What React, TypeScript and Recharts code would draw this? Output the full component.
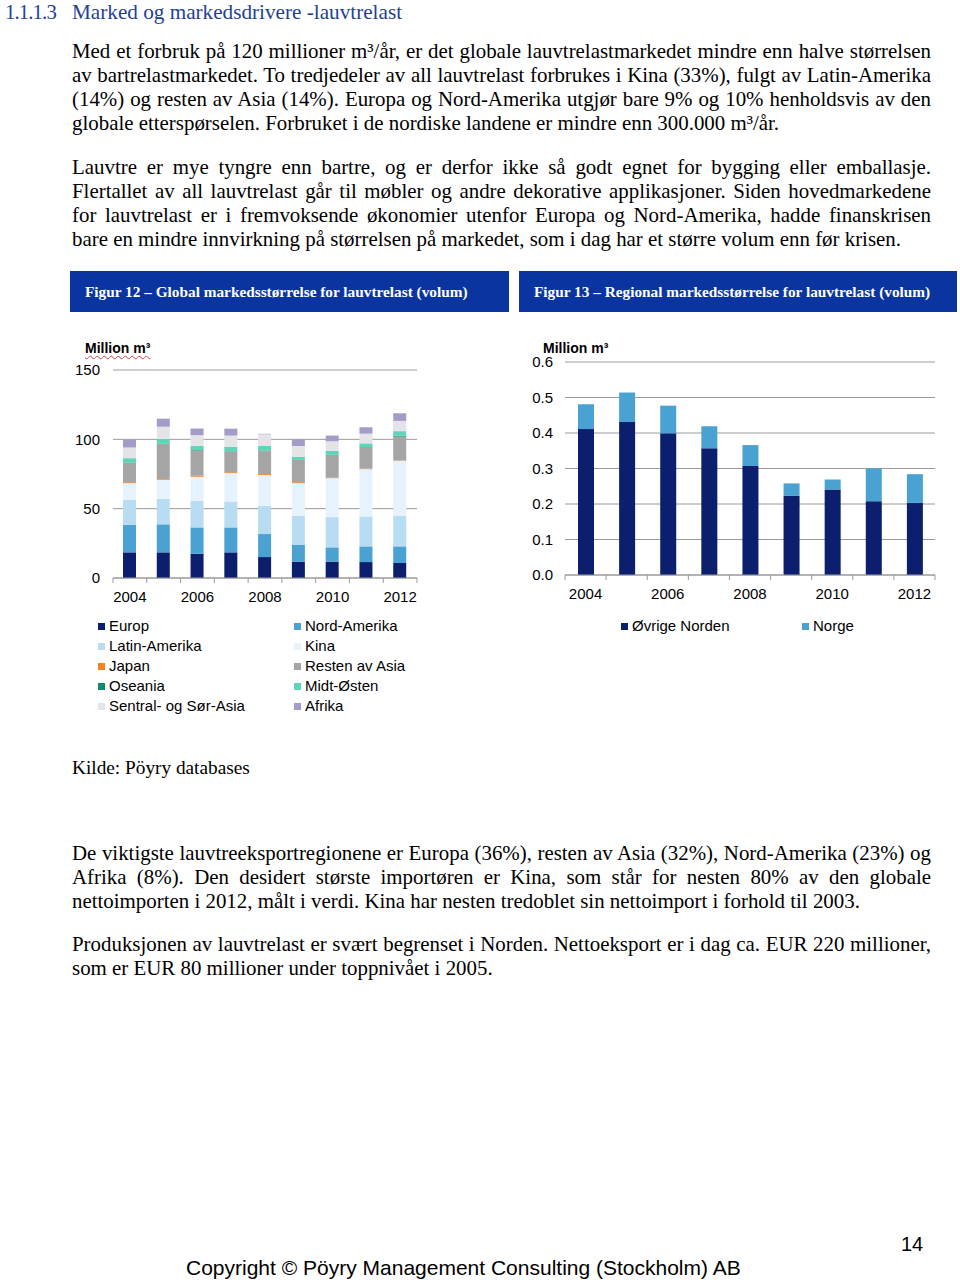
import React from 'react';
import { BarChart, Bar, XAxis, YAxis, CartesianGrid } from 'recharts';

const years = ['2004', '2005', '2006', '2007', '2008', '2009', '2010', '2011', '2012'];

// Figur 12 – Global markedsstørrelse (million m³)
const europ = [18.5, 18.5, 17.5, 18.5, 15.1, 11.8, 11.8, 11.5, 10.8];
const nordAmerika = [19.7, 20.2, 19.0, 18.0, 16.6, 12.0, 10.3, 11.3, 12.0];
const latinAmerika = [18.2, 18.4, 19.2, 18.7, 20.4, 21.1, 21.8, 21.6, 22.1];
const kina = [12.0, 13.7, 17.3, 20.4, 22.1, 23.5, 28.1, 34.1, 39.6];
const japan = [0.7, 0.5, 1.0, 0.7, 0.7, 0.7, 0.3, 0.3, 0.3];
const restenAvAsia = [13.7, 25.2, 18.0, 14.7, 16.6, 16.1, 16.3, 15.3, 17.2];
const oseania = [0.3, 0.3, 0.3, 0.3, 0.3, 0.3, 0.3, 0.3, 0.6];
const midtOsten = [3.3, 3.5, 3.0, 3.4, 3.4, 2.0, 2.7, 2.7, 3.3];
const sentralSorAsia = [7.7, 8.8, 7.7, 8.0, 8.4, 7.7, 7.0, 7.0, 7.4];
const afrika = [5.5, 5.8, 4.8, 5.0, 0.4, 4.6, 4.1, 4.6, 5.5];
const ticks1 = [0, 50, 100, 150];

// Figur 13 – Regional markedsstørrelse (million m³)
const ovrigeNorden = [0.411, 0.431, 0.399, 0.357, 0.307, 0.223, 0.241, 0.208, 0.203];
const norge = [0.07, 0.083, 0.078, 0.062, 0.059, 0.035, 0.028, 0.092, 0.081];
const ticks2 = [0, 0.1, 0.2, 0.3, 0.4, 0.5, 0.6];

const series1 = [
  { key: 'europ', name: 'Europ', color: '#0B1F6E', values: europ },
  { key: 'nordAmerika', name: 'Nord-Amerika', color: '#4AA2D2', values: nordAmerika },
  { key: 'latinAmerika', name: 'Latin-Amerika', color: '#B8DCF2', values: latinAmerika },
  { key: 'kina', name: 'Kina', color: '#E6F3FC', values: kina },
  { key: 'japan', name: 'Japan', color: '#F5821F', values: japan },
  { key: 'restenAvAsia', name: 'Resten av Asia', color: '#A5A5A5', values: restenAvAsia },
  { key: 'oseania', name: 'Oseania', color: '#15876A', values: oseania },
  { key: 'midtOsten', name: 'Midt-Østen', color: '#5ED4B8', values: midtOsten },
  { key: 'sentralSorAsia', name: 'Sentral- og Sør-Asia', color: '#E4E4E8', values: sentralSorAsia },
  { key: 'afrika', name: 'Afrika', color: '#A59BC8', values: afrika },
];

const series2 = [
  { key: 'ovrigeNorden', name: 'Øvrige Norden', color: '#0B1F6E', values: ovrigeNorden },
  { key: 'norge', name: 'Norge', color: '#4AA2D2', values: norge },
];

const data1 = years.map((y, i) => {
  const row: any = { year: y };
  series1.forEach((s) => (row[s.key] = s.values[i]));
  return row;
});
const data2 = years.map((y, i) => {
  const row: any = { year: y };
  series2.forEach((s) => (row[s.key] = s.values[i]));
  return row;
});

const SANS = '"Liberation Sans", Arial, Helvetica, sans-serif';
const SERIF = '"Liberation Serif", "Times New Roman", Times, serif';
const AXIS_GRAY = '#9A9A9A';
const TICK_GAP = 13;
const BODY_SIZE = 20.9;

const XTick = (props: any) => {
  const { x, y, payload, index, visibleTicksCount } = props;
  const off = payload && typeof payload.offset === 'number' ? payload.offset : 0;
  const axisY = y - TICK_GAP;
  const isLast = index === (visibleTicksCount ?? 9) - 1;
  return (
    <g>
      <line x1={x - off} x2={x - off} y1={axisY} y2={axisY + 5} stroke={AXIS_GRAY} strokeWidth={1} />
      {isLast && <line x1={x + off} x2={x + off} y1={axisY} y2={axisY + 5} stroke={AXIS_GRAY} strokeWidth={1} />}
      {index % 2 === 0 && (
        <text x={x} y={y} dy="0.71em" textAnchor="middle" fill="#000" fontSize={15} fontFamily={SANS}>
          {payload.value}
        </text>
      )}
    </g>
  );
};

const JLine = ({ children, last }: { children: React.ReactNode; last?: boolean }) => (
  <div
    style={{
      textAlign: last ? 'left' : 'justify',
      textAlignLast: last ? 'left' : 'justify',
      whiteSpace: 'nowrap',
    } as any}
  >
    {children}
  </div>
);

const Para = ({ top, lines }: { top: number; lines: string[] }) => (
  <div
    style={{
      position: 'absolute',
      left: 72,
      top,
      width: 859,
      fontFamily: SERIF,
      fontSize: BODY_SIZE,
      lineHeight: '24px',
      color: '#000',
    }}
  >
    {lines.map((l, i) => (
      <JLine key={i} last={i === lines.length - 1}>
        {l}
      </JLine>
    ))}
  </div>
);

const Banner = ({ left, width, text }: { left: number; width: number; text: string }) => (
  <div
    style={{
      position: 'absolute',
      left,
      top: 271,
      width,
      height: 41,
      background: '#0A35A0',
      color: '#fff',
      fontFamily: SERIF,
      fontWeight: 'bold',
      fontSize: 15.3,
      lineHeight: '41px',
      boxSizing: 'border-box',
      paddingLeft: 15,
      whiteSpace: 'nowrap',
    }}
  >
    {text}
  </div>
);

const LegendItem = ({ x, y, color, name }: { x: number; y: number; color: string; name: string }) => (
  <div style={{ position: 'absolute', left: x, top: y - 10, height: 20, lineHeight: '20px', fontFamily: SANS, fontSize: 15, whiteSpace: 'nowrap', color: '#000' }}>
    <span style={{ display: 'inline-block', width: 7, height: 7, background: color, marginRight: 4, verticalAlign: 'middle', position: 'relative', top: -1 }} />
    {name}
  </div>
);

export default function App() {
  return (
    <div style={{ position: 'absolute', left: 0, top: 0, width: 960, height: 1282, background: '#fff', overflow: 'hidden' }}>
      {/* Heading */}
      <div style={{ position: 'absolute', left: 5, top: 0, fontFamily: SERIF, fontSize: 20.8, lineHeight: 'normal', color: '#1F3F94', whiteSpace: 'nowrap', letterSpacing: -0.9 }}>
        1.1.1.3
      </div>
      <div style={{ position: 'absolute', left: 72, top: 0, fontFamily: SERIF, fontSize: 21.2, lineHeight: 'normal', color: '#1F3F94', whiteSpace: 'nowrap' }}>
        Marked og markedsdrivere -lauvtrelast
      </div>

      <Para
        top={39}
        lines={[
          'Med et forbruk på 120 millioner m³/år, er det globale lauvtrelastmarkedet mindre enn halve størrelsen',
          'av bartrelastmarkedet. To tredjedeler av all lauvtrelast forbrukes i Kina (33%), fulgt av Latin-Amerika',
          '(14%) og resten av Asia (14%). Europa og Nord-Amerika utgjør bare 9% og 10% henholdsvis av den',
          'globale etterspørselen. Forbruket i de nordiske landene er mindre enn 300.000 m³/år.',
        ]}
      />
      <Para
        top={155}
        lines={[
          'Lauvtre er mye tyngre enn bartre, og er derfor ikke så godt egnet for bygging eller emballasje.',
          'Flertallet av all lauvtrelast går til møbler og andre dekorative applikasjoner. Siden hovedmarkedene',
          'for lauvtrelast er i fremvoksende økonomier utenfor Europa og Nord-Amerika, hadde finanskrisen',
          'bare en mindre innvirkning på størrelsen på markedet, som i dag har et større volum enn før krisen.',
        ]}
      />

      <Banner left={70} width={439} text="Figur 12 – Global markedsstørrelse for lauvtrelast (volum)" />
      <Banner left={519} width={438} text="Figur 13 – Regional markedsstørrelse for lauvtrelast (volum)" />

      {/* Chart 1 */}
      <div
        style={{
          position: 'absolute',
          left: 85,
          top: 339,
          fontFamily: SANS,
          fontWeight: 'bold',
          fontSize: 14,
          lineHeight: '18px',
          textDecoration: 'underline wavy #D04848',
          textDecorationThickness: '1px',
          textUnderlineOffset: '2px',
          whiteSpace: 'nowrap',
        } as any}
      >
        Million m³
      </div>
      <div style={{ position: 'absolute', left: 60, top: 350 }}>
        <BarChart width={360} height={260} data={data1} margin={{ top: 20, right: 3, bottom: 2, left: 8 }} barSize={13}>
          <CartesianGrid vertical={false} stroke={AXIS_GRAY} strokeWidth={1} />
          <XAxis
            dataKey="year"
            interval={0}
            height={30}
            tickLine={false}
            tickSize={0}
            tickMargin={TICK_GAP}
            axisLine={{ stroke: AXIS_GRAY }}
            tick={<XTick />}
          />
          <YAxis
            width={45}
            domain={[0, 150]}
            ticks={ticks1}
            axisLine={false}
            tickLine={false}
            tickSize={0}
            tickMargin={13}
            tick={{ fill: '#000', fontSize: 15, fontFamily: SANS }}
          />
          {series1.map((s) => (
            <Bar key={s.key} dataKey={s.key} name={s.name} stackId="a" fill={s.color} isAnimationActive={false} />
          ))}
        </BarChart>
      </div>
      {series1.map((s, i) => (
        <LegendItem key={s.key} x={i % 2 === 0 ? 98 : 294} y={626 + Math.floor(i / 2) * 20} color={s.color} name={s.name} />
      ))}

      {/* Chart 2 */}
      <div style={{ position: 'absolute', left: 543, top: 339, fontFamily: SANS, fontWeight: 'bold', fontSize: 14, lineHeight: '18px', whiteSpace: 'nowrap' }}>
        Million m³
      </div>
      <div style={{ position: 'absolute', left: 520, top: 340 }}>
        <BarChart width={430} height={270} data={data2} margin={{ top: 22, right: 15, bottom: 5, left: 0 }} barSize={16}>
          <CartesianGrid vertical={false} stroke={AXIS_GRAY} strokeWidth={1} />
          <XAxis
            dataKey="year"
            interval={0}
            height={30}
            tickLine={false}
            tickSize={0}
            tickMargin={TICK_GAP}
            axisLine={{ stroke: AXIS_GRAY }}
            tick={<XTick />}
          />
          <YAxis
            width={45}
            domain={[0, 0.6]}
            ticks={ticks2}
            axisLine={false}
            tickLine={false}
            tickSize={0}
            tickMargin={12}
            tickFormatter={(v: number) => v.toFixed(1)}
            tick={{ fill: '#000', fontSize: 15, fontFamily: SANS }}
          />
          {series2.map((s) => (
            <Bar key={s.key} dataKey={s.key} name={s.name} stackId="a" fill={s.color} isAnimationActive={false} />
          ))}
        </BarChart>
      </div>
      {series2.map((s, i) => (
        <LegendItem key={s.key} x={i === 0 ? 621 : 802} y={626} color={s.color} name={s.name} />
      ))}

      {/* Source */}
      <div style={{ position: 'absolute', left: 72, top: 756, fontFamily: SERIF, fontSize: 19.3, lineHeight: '24px', whiteSpace: 'nowrap' }}>
        Kilde: Pöyry databases
      </div>

      <Para
        top={841}
        lines={[
          'De viktigste lauvtreeksportregionene er Europa (36%), resten av Asia (32%), Nord-Amerika (23%) og',
          'Afrika (8%). Den desidert største importøren er Kina, som står for nesten 80% av den globale',
          'nettoimporten i 2012, målt i verdi. Kina har nesten tredoblet sin nettoimport i forhold til 2003.',
        ]}
      />
      <Para
        top={932}
        lines={[
          'Produksjonen av lauvtrelast er svært begrenset i Norden. Nettoeksport er i dag ca. EUR 220 millioner,',
          'som er EUR 80 millioner under toppnivået i 2005.',
        ]}
      />

      {/* Footer */}
      <div style={{ position: 'absolute', left: 901, top: 1232, fontFamily: SANS, fontSize: 20, lineHeight: '24px' }}>14</div>
      <div style={{ position: 'absolute', left: 186, top: 1256, fontFamily: SANS, fontSize: 21, lineHeight: '24px', whiteSpace: 'nowrap' }}>
        Copyright © Pöyry Management Consulting (Stockholm) AB
      </div>
    </div>
  );
}
